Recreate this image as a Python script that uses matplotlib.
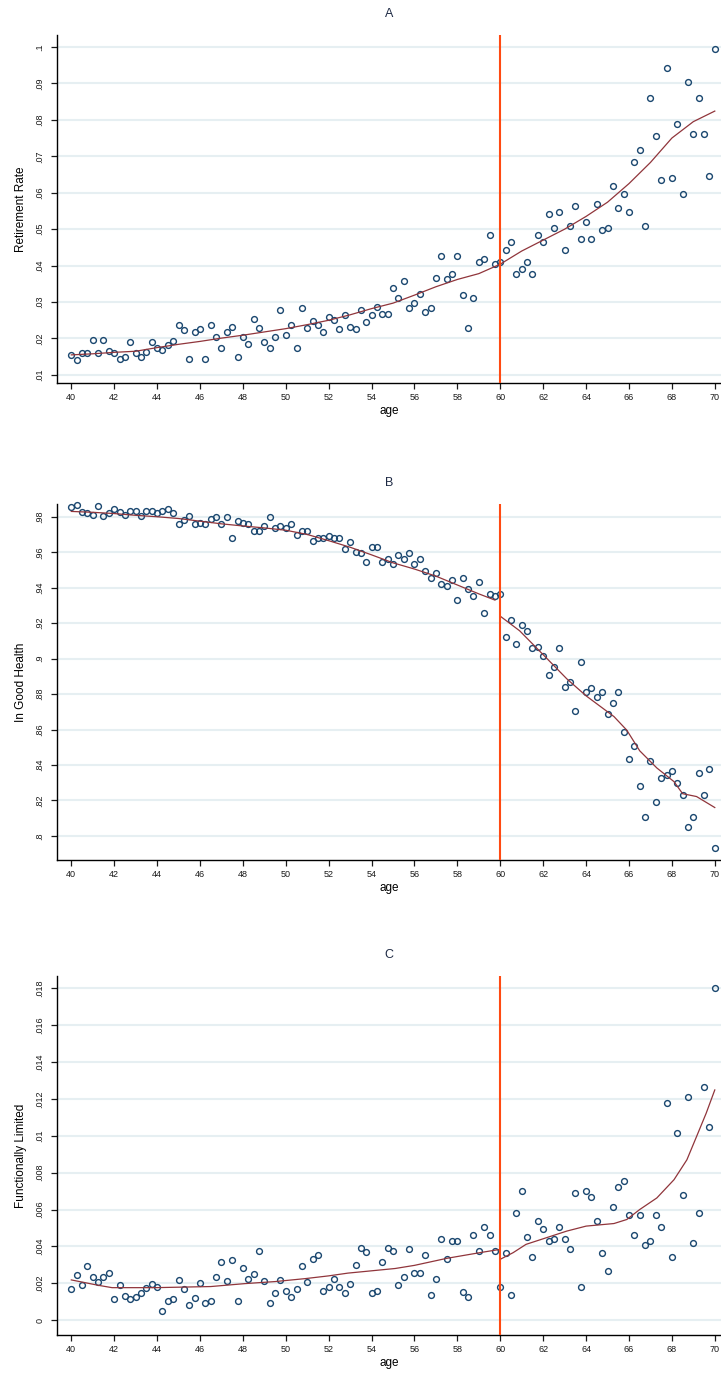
import numpy as np
import matplotlib
matplotlib.use("Agg")
import matplotlib.pyplot as plt

plt.rcParams['font.family'] = ['Liberation Sans', 'DejaVu Sans']

# quarterly age bins 40..70
ages = np.arange(40, 70.01, 0.25)
cutoff = 60

retire = [.0155, .0141, .0161, .0161, .0197, .0159, .0197, .0166, .0159, .0143,
          .0148, .0191, .0161, .0148, .0164, .0191, .0175, .0168, .0182, .0193,
          .0236, .0223, .0143, .0218, .0225, .0143, .0236, .0205, .0175, .0218,
          .0232, .0148, .0205, .0186, .0253, .0230, .0191, .0175, .0205, .0279,
          .0209, .0236, .0175, .0285, .0230, .0248, .0236, .0218, .0259, .0250,
          .0225, .0264, .0232, .0225, .0279, .0245, .0264, .0286, .0268, .0268,
          .0339, .0311, .0357, .0285, .0298, .0323, .0273, .0285, .0367, .0426,
          .0362, .0378, .0426, .0319, .0230, .0312, .0411, .0417, .0483, .0405,
          .0410, .0443, .0466, .0378, .0391, .0411, .0378, .0483, .0466, .0542,
          .0503, .0548, .0444, .0510, .0564, .0472, .0519, .0472, .0569, .0498,
          .0503, .0619, .0558, .0596, .0548, .0685, .0717, .0510, .0859, .0756,
          .0635, .0941, .0640, .0788, .0596, .0903, .0760, .0859, .0760, .0646,
          .0995]
retire_fit_l_age = [40, 41, 42, 43, 44, 45, 46, 47, 48, 49, 50, 51, 52, 53, 54, 55, 56, 57, 58, 59, 60]
retire_fit_l = [.0155, .0158, .0162, .0165, .0175, .0184, .0192, .0201, .0209, .0218, .0227,
                .0238, .0250, .0265, .0282, .0297, .0319, .0342, .0362, .0378, .0404]
retire_fit_r_age = [60, 61, 62, 63, 64, 65, 66, 67, 68, 69, 70]
retire_fit_r = [.0404, .0440, .0470, .0500, .0535, .0574, .0625, .0683, .0750, .0795, .0824]

health = [.9855, .9869, .9825, .9820, .9812, .9859, .9806, .9820, .9845, .9825,
          .9812, .9835, .9831, .9806, .9831, .9831, .9820, .9831, .9845, .9820,
          .9757, .9780, .9806, .9757, .9767, .9757, .9786, .9796, .9757, .9796,
          .9678, .9776, .9767, .9757, .9722, .9722, .9747, .9796, .9737, .9747,
          .9737, .9761, .9698, .9718, .9722, .9663, .9678, .9678, .9692, .9678,
          .9678, .9620, .9655, .9600, .9596, .9547, .9629, .9629, .9547, .9561,
          .9531, .9587, .9564, .9597, .9535, .9564, .9492, .9457, .9481, .9419,
          .9409, .9444, .9328, .9457, .9390, .9351, .9432, .9258, .9364, .9351,
          .9364, .9119, .9215, .9084, .9190, .9153, .9061, .9064, .9012, .8910,
          .8954, .9061, .8842, .8867, .8702, .8979, .8809, .8832, .8784, .8809,
          .8689, .8747, .8809, .8586, .8435, .8509, .8282, .8108, .8422, .8189,
          .8329, .8344, .8364, .8296, .8228, .8050, .8108, .8354, .8228, .8379,
          .7934]
health_fit_l_age = [40, 41, 42, 43, 44, 45, 46, 47, 48, 49, 50, 51, 52, 53, 54, 55, 56, 57, 58, 59, 59.75]
health_fit_l = [.9830, .9825, .9818, .9808, .9800, .9790, .9775, .9760, .9748, .9737, .9724,
                .9700, .9665, .9628, .9585, .9540, .9505, .9465, .9415, .9365, .9330]
health_fit_r_age = [60.0, 60.9, 62.0, 63.1, 64.0, 65.3, 65.9, 66.5, 67.3, 68.1, 68.5, 69.15, 70.0]
health_fit_r = [.9239, .9157, .9022, .8886, .8790, .8673, .8596, .8480, .8383, .8306, .8238, .8222, .8160]

limited = [.00171, .00245, .00191, .00291, .00235, .00204, .00236, .00258, .00116, .00191,
           .00131, .00113, .00127, .00145, .00173, .00195, .00182, .00049, .00104, .00116,
           .00216, .00167, .00082, .00118, .00200, .00095, .00104, .00236, .00313, .00213,
           .00325, .00104, .00282, .00225, .00249, .00376, .00213, .00095, .00149, .00216,
           .00158, .00125, .00171, .00291, .00204, .00331, .00353, .00158, .00180, .00225,
           .00182, .00145, .00195, .00300, .00391, .00367, .00145, .00158, .00313, .00391,
           .00373, .00191, .00236, .00387, .00258, .00258, .00353, .00137, .00222, .00441,
           .00333, .00429, .00429, .00150, .00126, .00461, .00375, .00506, .00461, .00375,
           .00180, .00366, .00137, .00582, .00699, .00452, .00342, .00537, .00495, .00429,
           .00438, .00506, .00441, .00387, .00690, .00180, .00703, .00667, .00537, .00366,
           .00267, .00614, .00721, .00757, .00569, .00461, .00569, .00407, .00429, .00569,
           .00506, .01177, .00342, .01014, .00679, .01209, .00420, .00582, .01263, .01047,
           .01804]
limited_fit_l_age = [40, 41.25, 41.9, 43.9, 46.5, 48.1, 49.5, 50.9, 52.0, 52.9, 53.7, 55.1, 56.0, 57.5, 59.05, 60.0]
limited_fit_l = [.00218, .00189, .00176, .00176, .00182, .00198, .00209, .00225, .00240, .00255,
                 .00264, .00280, .00297, .00335, .00366, .00384]
limited_fit_r_age = [60.0, 60.6, 61.2, 62.15, 63.1, 64.0, 65.3, 65.9, 66.5, 67.3, 68.1, 68.7, 69.15, 69.6, 70.0]
limited_fit_r = [.0033, .00366, .00411, .00447, .00483, .0051, .00524, .00546, .006, .00663,
                 .00762, .0087, .00996, .01123, .01249]

xticks = list(range(40, 71, 2))

A_ticks = [.01, .02, .03, .04, .05, .06, .07, .08, .09, .1]
A_labels = ['.01', '.02', '.03', '.04', '.05', '.06', '.07', '.08', '.09', '.1']
B_ticks = [.8, .82, .84, .86, .88, .9, .92, .94, .96, .98]
B_labels = ['.8', '.82', '.84', '.86', '.88', '.9', '.92', '.94', '.96', '.98']
C_ticks = [0, .002, .004, .006, .008, .01, .012, .014, .016, .018]
C_labels = ['0', '.002', '.004', '.006', '.008', '.01', '.012', '.014', '.016', '.018']

NAVY = '#1a476f'
MAROON = '#90353b'
CUT = '#ff4a12'
GRID = '#e6eff2'


def panel(ax, y, fl_age, fl, fr_age, fr, title, ylabel, ticks, labels, ylim):
    ax.set_xlim(39.333, 70.29)
    ax.set_ylim(*ylim)
    ax.yaxis.grid(True, color=GRID, lw=1.5)
    ax.set_axisbelow(True)
    ax.plot(ages, y, 'o', mfc='none', mec=NAVY, ms=4.2, mew=1.0, clip_on=False, zorder=3)
    ax.plot(fl_age, fl, color=MAROON, lw=0.9, zorder=4)
    ax.plot(fr_age, fr, color=MAROON, lw=0.9, zorder=4)
    ax.axvline(cutoff, color=CUT, lw=1.5, zorder=5)
    ax.set_xticks(xticks)
    ax.set_yticks(ticks)
    ax.set_yticklabels(labels, rotation=90, va='center')
    ax.tick_params(axis='both', direction='out', length=4, width=0.9, labelsize=6.5, colors='#1a1a1a')
    ax.tick_params(axis='y', pad=5)
    for s in ['top', 'right']:
        ax.spines[s].set_visible(False)
    for s in ['left', 'bottom']:
        ax.spines[s].set_linewidth(1.0)
    ax.set_title(title, fontsize=9, color='#1e2a44', pad=13)
    ax.set_ylabel(ylabel, fontsize=8.5, labelpad=6)
    ax.set_xlabel('age', fontsize=8.5, labelpad=2)


fig = plt.figure(figsize=(7.21, 13.8), dpi=100)
left, width = 57 / 721, 664 / 721
axA = fig.add_axes([left, 0.7225, width, 0.2522])
axB = fig.add_axes([left, 0.3768, width, 0.2580])
axC = fig.add_axes([left, 0.0326, width, 0.2601])

panel(axA, retire, retire_fit_l_age, retire_fit_l, retire_fit_r_age, retire_fit_r,
      'A', 'Retirement Rate', A_ticks, A_labels, (.0078, .1033))
panel(axB, health, health_fit_l_age, health_fit_l, health_fit_r_age, health_fit_r,
      'B', 'In Good Health', B_ticks, B_labels, (.7864, .9872))
panel(axC, limited, limited_fit_l_age, limited_fit_l, limited_fit_r_age, limited_fit_r,
      'C', 'Functionally Limited', C_ticks, C_labels, (-.00081, .01867))

fig.savefig('out.png', dpi=100, facecolor='white')
